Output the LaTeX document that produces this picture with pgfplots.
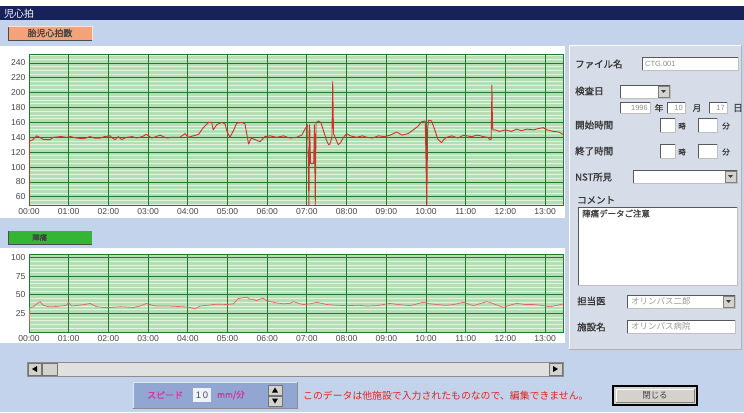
\documentclass[border=0pt]{standalone}
\usepackage{pgfplots}
\pgfplotsset{compat=1.18}
\usepackage{fontspec}
\setmainfont{Liberation Sans}
\newfontfamily\jp{Noto Sans CJK JP}
\newfontfamily\jpb[FakeBold=1.2]{Noto Sans CJK JP}
\definecolor{bgblue}{RGB}{196,211,236}
\definecolor{navy}{RGB}{24,34,90}
\definecolor{panel}{RGB}{214,221,233}
\definecolor{gridbg}{RGB}{180,223,180}
\definecolor{gridminor}{RGB}{226,243,226}
\definecolor{griddark}{RGB}{34,122,44}
\definecolor{trace}{RGB}{215,45,45}
\definecolor{trace2}{RGB}{226,100,96}
\definecolor{orangebtn}{RGB}{244,162,122}
\definecolor{greenbtn}{RGB}{52,182,52}
\definecolor{speedbg}{RGB}{146,166,212}
\definecolor{pinktxt}{RGB}{215,50,150}
\definecolor{redtxt}{RGB}{225,35,35}
\definecolor{btngray}{RGB}{212,210,204}

\pgfplotstableread{
h v
0.000 49
0.010 135
0.08 136
0.19 142
0.27 140
0.36 137
0.53 137
0.61 140
0.80 141
0.95 140
1.05 141
1.20 139
1.37 138
1.54 141
1.65 139
1.79 139
1.90 141
2.04 142
2.10 139
2.17 137
2.25 141
2.33 137
2.46 140
2.60 141
2.71 139
2.85 141
2.96 144
3.09 139
3.20 141
3.30 143
3.38 141
3.47 139
3.60 140
3.80 140
3.93 145
4.01 140
4.14 142
4.27 144
4.39 153
4.52 160
4.60 160
4.64 150
4.73 157
4.85 160
4.94 158
4.98 149
5.06 140
5.15 149
5.23 159
5.36 160
5.44 158
5.53 131
5.60 139
5.69 137
5.82 134
5.94 141
6.07 142
6.24 140
6.41 142
6.57 139
6.74 140
6.87 143
6.95 151
7.02 157
7.05 49
7.07 157
7.09 105
7.17 105
7.19 157
7.21 49
7.23 160
7.29 162
7.35 160
7.41 150
7.50 135
7.55 130
7.58 131
7.63 140
7.65 215
7.66 180
7.67 145
7.71 140
7.79 130
7.85 133
7.92 140
8.00 145
8.09 142
8.25 140
8.40 142
8.51 140
8.65 139
8.80 142
8.95 141
9.10 143
9.26 147
9.40 143
9.55 145
9.68 150
9.80 155
9.89 161
9.98 162
10.02 49
10.04 150
10.06 163
10.14 162
10.22 150
10.30 137
10.39 133
10.45 137
10.52 140
10.65 142
10.80 139
10.95 143
11.02 142
11.15 141
11.30 143
11.44 141
11.55 140
11.61 137
11.64 137
11.66 210
11.67 170
11.68 150
11.74 150
11.85 148
12.00 150
12.15 148
12.28 151
12.40 149
12.55 151
12.70 150
12.85 152
12.95 153
13.05 150
13.20 148
13.35 147
13.45 144
}\fhr

\pgfplotstableread{
h v
0.00 0
0.02 33
0.11 34
0.20 38
0.28 41
0.36 36
0.50 34
0.61 34
0.80 35
0.95 36
0.99 40
1.07 35
1.25 36
1.40 37
1.54 38.5
1.70 34
1.90 33
2.04 33
2.30 34
2.63 33
2.80 35
2.96 38.5
3.10 36
3.21 35
3.50 35
3.89 34
4.05 33
4.18 31
4.31 35
4.50 36
4.73 37.5
5.00 37
5.15 38
5.27 45
5.48 47
5.57 44
5.65 44
5.73 42
5.80 44
5.90 45.5
5.99 42
6.16 40
6.24 39
6.40 38
6.57 38.5
6.66 41
6.82 38
6.91 37
7.10 38
7.25 40
7.50 37
7.75 36
8.00 35.5
8.30 36
8.50 35
8.76 35.5
9.09 38.5
9.30 37
9.60 35.5
9.93 40
10.10 38
10.27 37
10.50 36
10.70 37
10.94 40
11.19 35.5
11.35 38
11.53 41
11.70 38
11.95 33
12.10 36
12.28 38.5
12.50 37
12.70 37
12.90 36
13.12 34
13.30 36
13.45 37.7
}\toco

\pgfplotsset{ctg/.style={
  scale only axis, width=534bp,
  xmin=0, xmax=13.45,
  xtick={0,1,...,13},
  xticklabels={00:00,01:00,02:00,03:00,04:00,05:00,06:00,07:00,08:00,09:00,10:00,11:00,12:00,13:00},
  axis background/.style={fill=gridbg},
  xmajorgrids=false, ymajorgrids=true, yminorgrids=true,
  minor grid style={gridminor, line width=0.9bp},
  major grid style={griddark, line width=0.8bp},
  axis line style={griddark, line width=0.6bp},
  major tick length=0pt, minor tick length=0pt,
  tick style={draw=none},
  tick label style={font=\fontsize{8.6}{9}\selectfont, text=black!72},
  xticklabel style={yshift=0.5bp},
  /pgf/number format/assume math mode=true,
}}

\newcommand{\tbox}[4]{%
  \fill[white] (#1,-#2) rectangle (#3,-#4);
  \draw[black!25, line width=0.6bp] (#1,-#4) -- (#3,-#4) -- (#3,-#2);
  \draw[black!65, line width=0.9bp] (#1,-#4) -- (#1,-#2) -- (#3,-#2);}
\newcommand{\ddbtn}[3]{% right x, top y, bottom y
  \fill[btngray] (#1-12,-#2-1) rectangle (#1-1,-#3+1);
  \draw[black!50, line width=0.5bp] (#1-12,-#2-1) rectangle (#1-1,-#3+1);
  \fill[black!75] (#1-9,-#2/2-#3/2+1.5) -- (#1-4,-#2/2-#3/2+1.5) -- (#1-6.5,-#2/2-#3/2-1.5) -- cycle;}

\begin{document}
\begin{tikzpicture}[x=1bp,y=1bp]
\useasboundingbox (0,0) rectangle (744,-412);
\fill[bgblue] (0,0) rectangle (744,-412);
\fill[white] (0,0) rectangle (744,-6);
\fill[navy] (0,-6) rectangle (744,-20);
\node[anchor=west, text=white, font=\jp\fontsize{10}{10}\selectfont, inner sep=0] at (4,-13.5) {児心拍};

% orange label
\fill[orangebtn] (8,-26) rectangle (92,-40);
\draw[black!70, line width=0.8bp] (8,-26) -- (8,-40) -- (92,-40);
\draw[white!70!orangebtn, line width=0.6bp] (8,-26) -- (92,-26) -- (92,-40);
\node[font=\jpb\fontsize{9}{9}\selectfont, text=black!75, inner sep=0] at (50,-33) {胎児心拍数};

% chart panels
\fill[white] (0,-46) rectangle (565,-218);
\fill[white] (0,-248) rectangle (565,-343);

% green label
\fill[greenbtn] (8,-231) rectangle (92,-244);
\draw[black!70, line width=0.8bp] (8,-231) -- (8,-244) -- (92,-244);
\node[anchor=west, font=\jpb\fontsize{7.5}{8}\selectfont, text=black!75, inner sep=0] at (32,-237.5) {陣痛};

% top chart
\begin{axis}[ctg, at={(29bp,-205bp)}, anchor=south west, height=151bp,
  ymin=49, ymax=252,
  ytick={60,80,...,240},
  minor ytick={50,55,65,70,75,85,90,95,105,110,115,125,130,135,145,150,155,165,170,175,185,190,195,205,210,215,225,230,235,245,250}]
\pgfplotsinvokeforeach{0,1,...,13}{\draw[griddark, line width=1bp] (axis cs:#1,49) -- (axis cs:#1,252);}
\addplot[trace, line width=0.9bp, line join=round] table[x=h, y=v] {\fhr};
\end{axis}

% bottom chart
\begin{axis}[ctg, at={(29bp,-332bp)}, anchor=south west, height=78bp,
  ymin=0, ymax=105,
  ytick={25,50,75,100},
  minor ytick={5,10,15,20,30,35,40,45,55,60,65,70,80,85,90,95,105}]
\pgfplotsinvokeforeach{0,1,...,13}{\draw[griddark, line width=1bp] (axis cs:#1,0) -- (axis cs:#1,105);}
\addplot[trace2, line width=0.7bp, line join=round] table[x=h, y=v] {\toco};
\end{axis}

% right panel
\fill[panel] (569,-45) rectangle (741,-349);
\draw[white, line width=0.6bp] (569,-349) -- (569,-45) -- (741,-45);
\draw[black!30, line width=0.6bp] (569,-349) -- (741,-349) -- (741,-45);
\begin{scope}[every node/.style={font=\jpb\fontsize{9.5}{10}\selectfont, text=black!78, inner sep=0}]
\node[anchor=west] at (575,-64) {ファイル名};
\node[anchor=west] at (575,-91) {検査日};
\node[anchor=west] at (575,-125) {開始時間};
\node[anchor=west] at (575,-151) {終了時間};
\node[anchor=west] at (575,-177) {NST所見};
\node[anchor=west] at (577,-200) {コメント};
\node[anchor=west] at (577,-301) {担当医};
\node[anchor=west] at (577,-327) {施設名};
\end{scope}
\tbox{642}{57}{738}{70}
\node[anchor=west, font=\fontsize{7.5}{8}\selectfont, text=black!45, inner sep=0] at (645,-63.5) {CTG.001};
\tbox{620}{85}{670}{98}
\ddbtn{670}{85}{98}
\tbox{620}{102}{650}{113}
\node[anchor=east, font=\fontsize{7.5}{8}\selectfont, text=black!45, inner sep=0] at (648,-107.5) {1996};
\node[font=\jpb\fontsize{8.5}{9}\selectfont, text=black!78, inner sep=0] at (659,-108) {年};
\tbox{667}{102}{685}{113}
\node[anchor=east, font=\fontsize{7.5}{8}\selectfont, text=black!45, inner sep=0] at (683,-107.5) {10};
\node[font=\jpb\fontsize{8.5}{9}\selectfont, text=black!78, inner sep=0] at (697,-108) {月};
\tbox{709}{102}{727}{113}
\node[anchor=east, font=\fontsize{7.5}{8}\selectfont, text=black!45, inner sep=0] at (725,-107.5) {17};
\node[font=\jpb\fontsize{9.5}{10}\selectfont, text=black!78, inner sep=0] at (738,-108) {日};
\tbox{660}{118}{675}{132}
\node[font=\jpb\fontsize{7.5}{8}\selectfont, text=black!78, inner sep=0] at (682,-126) {時};
\tbox{698}{118}{717}{132}
\node[font=\jpb\fontsize{7.5}{8}\selectfont, text=black!78, inner sep=0] at (726,-126) {分};
\tbox{660}{144}{675}{158}
\node[font=\jpb\fontsize{7.5}{8}\selectfont, text=black!78, inner sep=0] at (682,-152) {時};
\tbox{698}{144}{717}{158}
\node[font=\jpb\fontsize{7.5}{8}\selectfont, text=black!78, inner sep=0] at (726,-152) {分};
\tbox{633}{170}{737}{183}
\ddbtn{737}{170}{183}
\tbox{578}{207}{737}{285}
\node[anchor=west, font=\jpb\fontsize{8.5}{9}\selectfont, text=black!75, inner sep=0] at (582,-213.5) {陣痛データご注意};
\tbox{627}{295}{735}{308}
\ddbtn{735}{295}{308}
\node[anchor=west, font=\jp\fontsize{8.5}{9}\selectfont, text=black!40, inner sep=0] at (631,-301.5) {オリンパス二郎};
\tbox{627}{320}{735}{333}
\node[anchor=west, font=\jp\fontsize{8.5}{9}\selectfont, text=black!40, inner sep=0] at (631,-326.5) {オリンパス病院};

% scrollbar
\fill[black!12] (27,-362) rectangle (563,-376);
\draw[black!45, line width=0.6bp] (27,-362) rectangle (563,-376);
\fill[btngray] (28,-363) rectangle (41,-375);
\draw[black!55, line width=0.5bp] (28,-363) rectangle (41,-375);
\fill[black] (32,-369) -- (37,-366) -- (37,-372) -- cycle;
\fill[btngray] (42,-363) rectangle (57,-375);
\draw[black!55, line width=0.5bp] (42,-363) rectangle (57,-375);
\fill[btngray] (549,-363) rectangle (562,-375);
\draw[black!55, line width=0.5bp] (549,-363) rectangle (562,-375);
\fill[black] (558,-369) -- (553,-366) -- (553,-372) -- cycle;

% speed panel
\fill[speedbg] (133,-382) rectangle (297,-408);
\draw[white!70!speedbg, line width=0.8bp] (133,-408) -- (133,-382) -- (297,-382);
\draw[black!45, line width=0.8bp] (133,-408) -- (297,-408) -- (297,-382);
\node[anchor=west, font=\jpb\fontsize{9}{9}\selectfont, text=pinktxt, inner sep=0] at (147,-395) {スピード};
\fill[white!85!speedbg] (193,-388) rectangle (211,-402);
\node[font=\fontsize{9.5}{10}\selectfont, text=black!70, inner sep=0] at (202,-395) {1\,0};
\node[anchor=west, font=\jpb\fontsize{8.5}{9}\selectfont, text=pinktxt, inner sep=0] at (217,-395) {mm/分};
\fill[btngray] (268,-385) rectangle (282,-395);
\draw[black!55, line width=0.5bp] (268,-385) rectangle (282,-395);
\fill[black] (272,-392.5) -- (278,-392.5) -- (275,-387.5) -- cycle;
\fill[btngray] (268,-396) rectangle (282,-406);
\draw[black!55, line width=0.5bp] (268,-396) rectangle (282,-406);
\fill[black] (272,-398.5) -- (278,-398.5) -- (275,-403.5) -- cycle;

\node[anchor=west, font=\jp\fontsize{9.9}{10}\selectfont, text=redtxt, inner sep=0] at (303,-396) {このデータは他施設で入力されたものなので、編集できません。};

% close button
\fill[btngray] (613,-386) rectangle (697,-405);
\draw[black, line width=1.2bp] (613,-386) rectangle (697,-405);
\draw[white, line width=0.7bp] (616,-402) -- (616,-389) -- (694,-389);
\draw[black!50, line width=0.7bp] (616,-402) -- (694,-402) -- (694,-389);
\node[font=\jp\fontsize{8.5}{9}\selectfont, text=black!75, inner sep=0] at (655,-395.5) {閉じる};
\end{tikzpicture}
\end{document}
